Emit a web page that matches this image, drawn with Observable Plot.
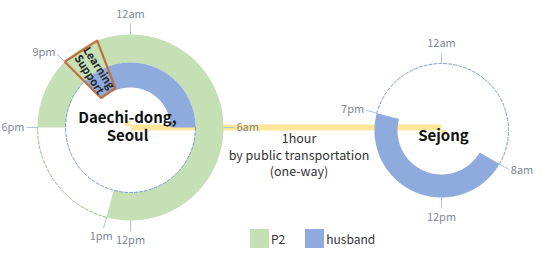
<!DOCTYPE html>
<html><head><meta charset="utf-8">
<script src="https://cdn.jsdelivr.net/npm/d3@7"></script>
<script src="https://cdn.jsdelivr.net/npm/@observablehq/plot@0.6"></script>
<style>
body{margin:0;background:#fff;}
#wrap{position:relative;width:545px;height:257px;overflow:hidden;}
#legend{position:absolute;left:250px;top:222px;}
.lg-swatch{margin-right:20px !important;}
.lg-swatch > svg{margin-right:2px !important;}
</style></head><body><div id="wrap"></div>
<script>
// ---------- data ----------
const places = ["Daechi-dong, Seoul", "Sejong"];
const placeLabels = ["Daechi-dong,\nSeoul", "Sejong"];
const people = ["P2", "husband"];
const peopleColors = ["#c5e0b4", "#8faadc"];
const absentColors = ["#8dbb72", "#6a93cf"];

// presence on the 24h dial (hour of day, clockwise from 12am at top)
const segPlace = ["Daechi-dong, Seoul", "Daechi-dong, Seoul", "Sejong"];
const segPerson = ["P2", "husband", "husband"];
const segStart = [18, 21, 8];
const segEnd = [13, 6, 19];

// activity block
const actPlace = ["Daechi-dong, Seoul"];
const actLabel = ["Learning\nSupport"];
const actStart = [21];
const actEnd = [22.6];

// dial tick labels
const tickPlace = ["Daechi-dong, Seoul","Daechi-dong, Seoul","Daechi-dong, Seoul","Daechi-dong, Seoul","Daechi-dong, Seoul","Daechi-dong, Seoul","Sejong","Sejong","Sejong","Sejong"];
const tickHour = [0, 6, 12, 18, 21, 13, 0, 8, 12, 19];
const tickLabel = ["12am","6am","12pm","6pm","9pm","1pm","12am","8am","12pm","7pm"];

// commute
const commuteFrom = "Daechi-dong, Seoul";
const commuteTo = "Sejong";
const commuteText = "1hour\nby public transportation\n(one-way)";

// ---------- layout (pixels) ----------
const layout = {
  "Daechi-dong, Seoul": {cx:130, cy:127, R:93, hub:{dx:-3, dy:-4, r:33}, rings:{P2:[65,93], husband:[40,65]}, font:15},
  "Sejong": {cx:441, cy:130, R:67, hub:{dx:2, dy:2, r:34}, rings:{husband:[44,67]}, font:15}
};
const FONT = "'Noto Sans CJK KR','Noto Sans',sans-serif";

const polar = (place, h, r) => {
  const L = layout[place], a = h / 24 * 2 * Math.PI;
  return {x: L.cx + r * Math.sin(a), y: L.cy - r * Math.cos(a)};
};
const span = (s, e) => (((e - s) % 24) + 24) % 24 || 24;
const hoursAlong = (s, e) => {
  const d = span(s, e), n = Math.ceil(d / 0.05);
  return d3.range(n + 1).map(i => s + d * i / n);
};

const segments = segPlace.map((place, i) => ({id: i, place, person: segPerson[i], start: segStart[i], end: segEnd[i]}));
const bandRows = segments.flatMap(s => {
  const [r0, r1] = layout[s.place].rings[s.person];
  const hs = hoursAlong(s.start, s.end);
  return [
    ...hs.map(h => ({...polar(s.place, h, r1), id: s.id, person: s.person})),
    ...hs.slice().reverse().map(h => ({...polar(s.place, h, r0), id: s.id, person: s.person}))
  ];
});
const gapRows = segments.flatMap(s => {
  const [r0, r1] = layout[s.place].rings[s.person];
  return hoursAlong(s.end, s.start).map(h => ({...polar(s.place, h, r1), id: s.id, person: s.person}));
});

const acts = actPlace.map((place, i) => ({place, label: actLabel[i], start: actStart[i], end: actEnd[i]}));
const actRows = acts.flatMap((a, i) => {
  const r0 = 42, r1 = layout[a.place].R;
  return [[a.start, r0], [a.start, r1], [a.end, r1], [a.end, r0], [a.start, r0]]
    .map(([h, r]) => ({...polar(a.place, h, r), id: i}));
});
const actText = acts.map(a => {
  const mid = a.start + span(a.start, a.end) / 2;
  return {...polar(a.place, mid, 67), label: a.label, rot: mid / 24 * 360 + 90};
});

const hubs = places.map((p, i) => {
  const L = layout[p];
  return {x: L.cx + L.hub.dx, y: L.cy + L.hub.dy, r: L.hub.r, label: placeLabels[i], fs: L.font};
});

const ticks = tickHour.map((h, i) => {
  const place = tickPlace[i], L = layout[place];
  const s = Math.sin(h / 24 * 2 * Math.PI);
  const anchor = s > 0.5 ? "start" : s < -0.5 ? "end" : "middle";
  const p0 = polar(place, h, L.R), p1 = polar(place, h, L.R + 11);
  const pl = polar(place, h, anchor === "middle" ? L.R + 20 : L.R + 13);
  return {x1: p0.x, y1: p0.y, x2: p1.x, y2: p1.y, lx: pl.x, ly: pl.y, anchor, label: tickLabel[i]};
});

const LA = layout[commuteFrom], LB = layout[commuteTo];
const commute = [{x1: LA.cx, x2: LB.cx, y: LA.cy, tx: ((LA.cx + LA.R) + (LB.cx - LB.R)) / 2, text: commuteText}];

const tickText = anchor => Plot.text(ticks.filter(d => d.anchor === anchor), {
  x: "lx", y: "ly", text: "label", textAnchor: anchor, fill: "#7f8896", fontSize: 11
});

const chart = Plot.plot({
  width: 545, height: 257,
  margin: 0,
  x: {domain: [0, 545], range: [0, 545], axis: null},
  y: {domain: [0, 257], range: [0, 257], axis: null},
  color: {domain: people, range: peopleColors},
  style: {fontFamily: FONT, background: "transparent"},
  marks: [
    Plot.link(commute, {x1: "x1", x2: "x2", y1: "y", y2: "y", stroke: "#ffe699", strokeWidth: 6}),
    Plot.line(gapRows.filter(d => d.person === "P2"), {x: "x", y: "y", z: "id", stroke: absentColors[0], strokeWidth: 1, strokeDasharray: "3,2"}),
    Plot.line(bandRows, {x: "x", y: "y", z: "id", fill: "person", stroke: null}),
    Plot.line(gapRows.filter(d => d.person === "husband"), {x: "x", y: "y", z: "id", stroke: absentColors[1], strokeWidth: 1, strokeDasharray: "3,2"}),
    Plot.dot(hubs, {x: "x", y: "y", r: "r", fill: "#ffe699", stroke: null}),
    Plot.line(actRows, {x: "x", y: "y", z: "id", stroke: "#c0703c", strokeWidth: 2.2, fill: "none"}),
    Plot.text(actText, {x: "x", y: "y", text: "label", rotate: "rot", fontSize: 11, fontWeight: "bold", fill: "#262626", lineHeight: 1.05}),
    Plot.text(hubs, {x: "x", y: d => d.y + 3, text: "label", fontSize: "fs", fontWeight: "bold", fill: "#111", lineHeight: 1.2}),
    Plot.link(ticks, {x1: "x1", y1: "y1", x2: "x2", y2: "y2", stroke: "#a9c5e8", strokeWidth: 1}),
    tickText("start"), tickText("middle"), tickText("end"),
    Plot.text(commute, {x: "tx", y: d => d.y + 27, text: "text", fontSize: 12.5, fill: "#333", lineHeight: 1.32})
  ]
});
const wrap = document.getElementById("wrap");
wrap.appendChild(chart);

const legend = Plot.legend({
  color: {type: "categorical", domain: people, range: peopleColors},
  swatchSize: 19, className: "lg",
  style: {fontFamily: FONT, fontSize: "12px", color: "#333"}
});
legend.id = "legend";
wrap.appendChild(legend);
</script></body></html>
